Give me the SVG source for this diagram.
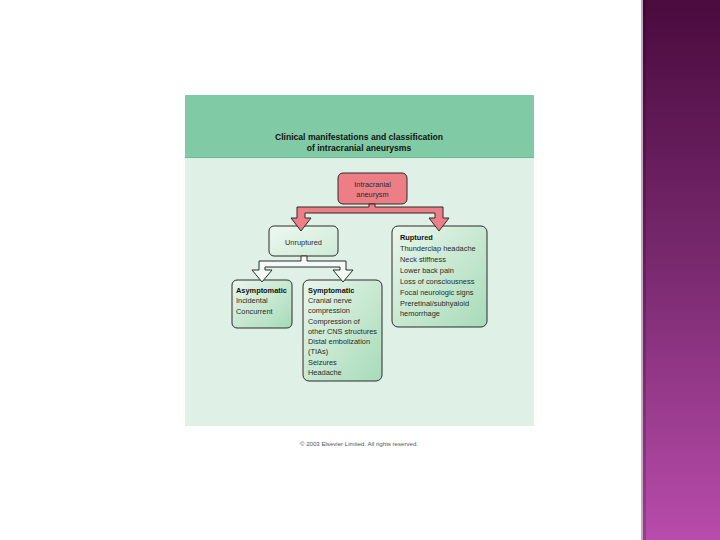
<svg xmlns="http://www.w3.org/2000/svg" width="720" height="540" viewBox="0 0 720 540">
<defs>
<linearGradient id="purple" x1="0" y1="0" x2="0" y2="1">
<stop offset="0" stop-color="#4a0b3e"/>
<stop offset="0.5" stop-color="#7a2a70"/>
<stop offset="1" stop-color="#b84cab"/>
</linearGradient>
<linearGradient id="boxg" x1="0" y1="0" x2="1" y2="1">
<stop offset="0" stop-color="#eaf6ec"/>
<stop offset="1" stop-color="#a6dbb8"/>
</linearGradient>
<linearGradient id="boxl" x1="0" y1="0" x2="1" y2="1">
<stop offset="0" stop-color="#eef8f0"/>
<stop offset="1" stop-color="#cdebd6"/>
</linearGradient>
<style>
.t{font-family:"Liberation Sans",Arial,sans-serif;font-size:7.4px;fill:#2a2a2a}
.b{font-weight:bold;fill:#111}
.c{text-anchor:middle}
.box{stroke:#2b2b2b;stroke-width:1}
</style>
</defs>
<rect width="720" height="540" fill="#ffffff"/>
<rect x="641" y="0" width="79" height="540" fill="url(#purple)"/>
<rect x="641" y="0" width="2" height="540" fill="#c8a6c2"/>
<rect x="643" y="0" width="3" height="540" fill="#000" opacity="0.18"/>
<rect x="185" y="95" width="349" height="331" fill="#dff1e6"/>
<rect x="185" y="95" width="349" height="62" fill="#80cba6"/>
<line x1="185" y1="157.5" x2="534" y2="157.5" stroke="#6fb894" stroke-width="1"/>
<text class="t b c" x="359" y="140" style="font-size:8.6px">Clinical manifestations and classification</text>
<text class="t b c" x="359" y="150.5" style="font-size:8.6px">of intracranial aneurysms</text>
<g id="intracranial">
<rect class="box" x="338" y="173" width="69" height="31" rx="5" fill="#ee7e85"/>
<text class="t c" x="372.5" y="187">Intracranial</text>
<text class="t c" x="372.5" y="197">aneurysm</text>
</g>
<g id="unruptured">
<rect class="box" x="269" y="226" width="69" height="30" rx="5" fill="url(#boxl)"/>
<text class="t c" x="303.5" y="245">Unruptured</text>
</g>
<g id="ruptured">
<rect class="box" x="392" y="226" width="95" height="101" rx="6" fill="url(#boxg)"/>
<text class="t b" x="400" y="240">Ruptured</text>
<text class="t" x="400" y="251">Thunderclap headache</text>
<text class="t" x="400" y="262">Neck stiffness</text>
<text class="t" x="400" y="273">Lower back pain</text>
<text class="t" x="400" y="284">Loss of consciousness</text>
<text class="t" x="400" y="295">Focal neurologic signs</text>
<text class="t" x="400" y="306">Preretinal/subhyaloid</text>
<text class="t" x="400" y="316">hemorrhage</text>
</g>
<g id="asymptomatic">
<rect class="box" x="232" y="280" width="60" height="48" rx="5" fill="url(#boxg)"/>
<text class="t b" x="236" y="293">Asymptomatic</text>
<text class="t" x="236" y="303">Incidental</text>
<text class="t" x="236" y="314">Concurrent</text>
</g>
<g id="symptomatic">
<rect class="box" x="303" y="280" width="79" height="101" rx="6" fill="url(#boxg)"/>
<text class="t b" x="308" y="293">Symptomatic</text>
<text class="t" x="308" y="303">Cranial nerve</text>
<text class="t" x="308" y="313">compression</text>
<text class="t" x="308" y="324">Compression of</text>
<text class="t" x="308" y="334">other CNS structures</text>
<text class="t" x="308" y="344">Distal embolization</text>
<text class="t" x="308" y="354">(TIAs)</text>
<text class="t" x="308" y="365">Seizures</text>
<text class="t" x="308" y="375">Headache</text>
</g>
<g id="connectors" stroke="#2b2b2b" stroke-width="1" stroke-linejoin="miter">
<path d="M369,204 L375,204 L375,207 L443,207 L443,218 L449,218 L439,231 L429,218 L435,218 L435,213 L305,213 L305,218 L311,218 L301,231 L291,218 L297,218 L297,207 L369,207 Z" fill="#ee7e85"/>
<path d="M301,256 L307,256 L307,261 L346,261 L346,270 L353,270 L343,282 L333,270 L340,270 L340,267 L265,267 L265,270 L272,270 L262,282 L252,270 L259,270 L259,261 L301,261 Z" fill="#f4faf5"/>
</g>
<text class="t c" x="359" y="446" style="font-size:6.1px;fill:#555">© 2003 Elsevier Limited. All rights reserved.</text>
</svg>
